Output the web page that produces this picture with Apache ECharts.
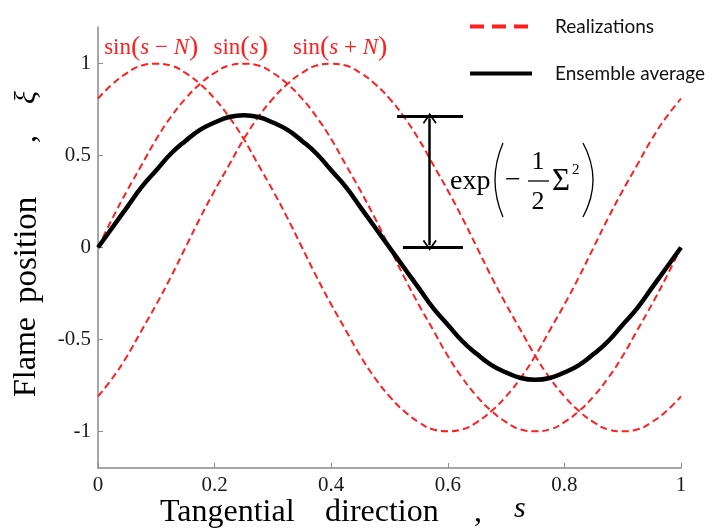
<!DOCTYPE html>
<html>
<head>
<meta charset="utf-8">
<script src="https://cdn.jsdelivr.net/npm/echarts@6/dist/echarts.min.js"></script>
<style>
  html, body { margin: 0; padding: 0; background: #fff; }
</style>
</head>
<body>
<div id="chart" style="width: 718px; height: 531px"></div>
<script>
// tangential positions s (step 0.025)
const sValues = [0, 0.025, 0.05, 0.075, 0.1, 0.125, 0.15, 0.175, 0.2, 0.225, 0.25,
  0.275, 0.3, 0.325, 0.35, 0.375, 0.4, 0.425, 0.45, 0.475, 0.5,
  0.525, 0.55, 0.575, 0.6, 0.625, 0.65, 0.675, 0.7, 0.725, 0.75,
  0.775, 0.8, 0.825, 0.85, 0.875, 0.9, 0.925, 0.95, 0.975, 1]
// realizations
const sinMinusN = [0.81, 0.89, 0.95, 0.99, 1, 0.99, 0.95, 0.89, 0.81, 0.71, 0.59,
  0.45, 0.31, 0.16, 0, -0.16, -0.31, -0.45, -0.59, -0.71, -0.81,
  -0.89, -0.95, -0.99, -1, -0.99, -0.95, -0.89, -0.81, -0.71, -0.59,
  -0.45, -0.31, -0.16, 0, 0.16, 0.31, 0.45, 0.59, 0.71, 0.81]
const sinS = [0, 0.16, 0.31, 0.45, 0.59, 0.71, 0.81, 0.89, 0.95, 0.99, 1,
  0.99, 0.95, 0.89, 0.81, 0.71, 0.59, 0.45, 0.31, 0.16, 0,
  -0.16, -0.31, -0.45, -0.59, -0.71, -0.81, -0.89, -0.95, -0.99, -1,
  -0.99, -0.95, -0.89, -0.81, -0.71, -0.59, -0.45, -0.31, -0.16, 0]
const sinPlusN = [-0.81, -0.71, -0.59, -0.45, -0.31, -0.16, 0, 0.16, 0.31, 0.45, 0.59,
  0.71, 0.81, 0.89, 0.95, 0.99, 1, 0.99, 0.95, 0.89, 0.81,
  0.71, 0.59, 0.45, 0.31, 0.16, 0, -0.16, -0.31, -0.45, -0.59,
  -0.71, -0.81, -0.89, -0.95, -0.99, -1, -0.99, -0.95, -0.89, -0.81]
// ensemble average (black)
const ensemble = [0, 0.11, 0.22, 0.33, 0.42, 0.51, 0.58, 0.64, 0.68, 0.71, 0.72,
  0.71, 0.68, 0.64, 0.58, 0.51, 0.42, 0.33, 0.22, 0.11, 0,
  -0.11, -0.22, -0.33, -0.42, -0.51, -0.58, -0.64, -0.68, -0.71, -0.72,
  -0.71, -0.68, -0.64, -0.58, -0.51, -0.42, -0.33, -0.22, -0.11, 0]

const xTicks = [0, 0.2, 0.4, 0.6, 0.8, 1]
const yTicks = [-1, -0.5, 0, 0.5, 1]

// peaks of the realizations, used for the red labels
const peakS = [0.1, 0.25, 0.4]
const peakLabels = ['minus', 'plain', 'plus']

// amplitude bracket: s position of arrow, bar ends
const arrowS = 0.569
const barTop = [0.513, 0.626]
const barBottom = [0.523, 0.626]
const ampTop = 0.715
const ampBottom = 0

const serif = '"Liberation Serif", "Times New Roman", serif'
const red = '#ff1f1f'

const chart = echarts.init(document.getElementById('chart'))

const pairs = (ys) => sValues.map((s, i) => [s, ys[i]])

const labelRich = {
  f: { fontFamily: serif, fontSize: 23, color: red },
  p: { fontFamily: serif, fontSize: 28, color: red },
  i: { fontFamily: serif, fontSize: 23, color: red, fontStyle: 'italic' }
}
const labelText = {
  minus: '{f|sin}{p|(}{i|s}{f| − }{i|N}{p|)}',
  plain: '{f|sin}{p|(}{i|s}{p|)}',
  plus: '{f|sin}{p|(}{i|s}{f| + }{i|N}{p|)}'
}
const labelShift = [-5, -3, 9]

function redSeries(ys, k) {
  return {
    name: 'Realizations',
    type: 'line',
    data: pairs(ys),
    smooth: true,
    symbol: 'none',
    lineStyle: { color: red, width: 2, type: [7, 4] },
    itemStyle: { color: red },
    z: 2,
    markPoint: {
      symbol: 'circle',
      symbolSize: 0,
      silent: true,
      label: {
        show: true,
        position: 'inside',
        offset: [labelShift[k], -16],
        formatter: labelText[peakLabels[k]],
        rich: labelRich
      },
      data: [{ coord: [peakS[k], ys[sValues.indexOf(peakS[k])]] }]
    }
  }
}

const chevron = 'path://M0,0 L7,9 L5.6,10 L0,2.6 L-5.6,10 L-7,9 Z'

const option = {
  animation: false,
  backgroundColor: '#fff',
  grid: { left: 98, right: 37, top: 27, bottom: 63 },
  legend: {
    left: 463,
    top: 12,
    orient: 'vertical',
    itemWidth: 62,
    itemHeight: 14,
    itemGap: 28,
    textStyle: {
      fontFamily: 'Lato, "Open Sans", sans-serif',
      fontSize: 19,
      color: '#111',
      padding: [0, 0, 0, 18]
    },
    data: [
      { name: 'Realizations', itemStyle: { opacity: 0 }, lineStyle: { type: [14, 8], width: 4, color: red } },
      { name: 'Ensemble average', itemStyle: { opacity: 0 }, lineStyle: { width: 4, color: '#000' } }
    ]
  },
  xAxis: {
    type: 'value',
    min: 0,
    max: 1,
    interval: 0.2,
    axisLine: { onZero: false, lineStyle: { color: '#8a8a8a', width: 1.5 } },
    axisTick: { inside: true, length: 5, lineStyle: { color: '#8a8a8a' } },
    splitLine: { show: false },
    axisLabel: {
      fontFamily: serif,
      fontSize: 21,
      color: '#1a1a1a',
      margin: 7,
      customValues: xTicks
    }
  },
  yAxis: {
    type: 'value',
    min: -1.2,
    max: 1.2,
    axisLine: { show: true, onZero: false, lineStyle: { color: '#8a8a8a', width: 1.5 } },
    axisTick: { show: true, inside: true, length: 5, lineStyle: { color: '#8a8a8a' }, customValues: yTicks },
    splitLine: { show: false },
    axisLabel: {
      fontFamily: serif,
      fontSize: 21,
      color: '#1a1a1a',
      margin: 7,
      customValues: yTicks
    }
  },
  series: [
    redSeries(sinMinusN, 0),
    redSeries(sinS, 1),
    redSeries(sinPlusN, 2),
    {
      name: 'Ensemble average',
      type: 'line',
      data: pairs(ensemble),
      smooth: true,
      symbol: 'none',
      lineStyle: { color: '#000', width: 4.5 },
      itemStyle: { color: '#000' },
      z: 5,
      markLine: {
        silent: true,
        symbol: ['none', 'none'],
        label: { show: false },
        lineStyle: { color: '#000', type: 'solid', width: 3 },
        data: [
          [{ coord: [barTop[0], ampTop] }, { coord: [barTop[1], ampTop] }],
          [{ coord: [barBottom[0], ampBottom] }, { coord: [barBottom[1], ampBottom] }],
          [
            { coord: [arrowS, ampBottom + 0.012], symbol: chevron, symbolSize: [14, 11], lineStyle: { width: 2.5 } },
            { coord: [arrowS, ampTop - 0.012], symbol: chevron, symbolSize: [14, 11], lineStyle: { width: 2.5 } }
          ]
        ]
      }
    }
  ],
  graphic: [
    // x axis title
    { type: 'text', x: 160, y: 513, style: { text: 'Tangential', font: '32px ' + serif, fill: '#000', verticalAlign: 'middle' } },
    { type: 'text', x: 325, y: 513, style: { text: 'direction', font: '32px ' + serif, fill: '#000', verticalAlign: 'middle' } },
    { type: 'text', x: 474, y: 513, style: { text: ',', font: '32px ' + serif, fill: '#000', verticalAlign: 'middle' } },
    { type: 'text', x: 514, y: 509, style: { text: 's', font: 'italic 30px ' + serif, fill: '#000', verticalAlign: 'middle' } },
    // y axis title
    { type: 'text', x: 27, y: 397, rotation: Math.PI / 2, style: { text: 'Flame', font: '32px ' + serif, fill: '#000', verticalAlign: 'middle' } },
    { type: 'text', x: 27, y: 303, rotation: Math.PI / 2, style: { text: 'position', font: '33px ' + serif, fill: '#000', verticalAlign: 'middle' } },
    { type: 'text', x: 27, y: 143, rotation: Math.PI / 2, style: { text: ',', font: '32px ' + serif, fill: '#000', verticalAlign: 'middle' } },
    { type: 'text', x: 27, y: 104, rotation: Math.PI / 2, style: { text: 'ξ', font: 'italic 30px ' + serif, fill: '#000', verticalAlign: 'middle' } },
    // exp(-1/2 Σ^2)
    { type: 'text', x: 450, y: 182, style: { text: 'exp', font: '28px ' + serif, fill: '#000', verticalAlign: 'middle' } },
    { type: 'bezierCurve', shape: { x1: 503, y1: 143, cpx1: 487, cpy1: 180, x2: 503, y2: 217 }, style: { stroke: '#000', lineWidth: 1.3, fill: 'none' } },
    { type: 'text', x: 505, y: 181, style: { text: '−', font: '28px ' + serif, fill: '#000', verticalAlign: 'middle' } },
    { type: 'text', x: 538, y: 162, style: { text: '1', font: '26px ' + serif, fill: '#000', align: 'center', verticalAlign: 'middle' } },
    { type: 'line', shape: { x1: 528, y1: 181, x2: 549, y2: 181 }, style: { stroke: '#000', lineWidth: 1.3 } },
    { type: 'text', x: 538, y: 202, style: { text: '2', font: '26px ' + serif, fill: '#000', align: 'center', verticalAlign: 'middle' } },
    { type: 'text', x: 552, y: 182, style: { text: 'Σ', font: '31px ' + serif, fill: '#000', verticalAlign: 'middle' } },
    { type: 'text', x: 572, y: 170, style: { text: '2', font: '15px ' + serif, fill: '#000', verticalAlign: 'middle' } },
    { type: 'bezierCurve', shape: { x1: 583, y1: 143, cpx1: 603, cpy1: 180, x2: 583, y2: 217 }, style: { stroke: '#000', lineWidth: 1.3, fill: 'none' } }
  ]
}

chart.setOption(option)

window.addEventListener('resize', () => {
  chart.resize()
})
</script>
</body>
</html>
